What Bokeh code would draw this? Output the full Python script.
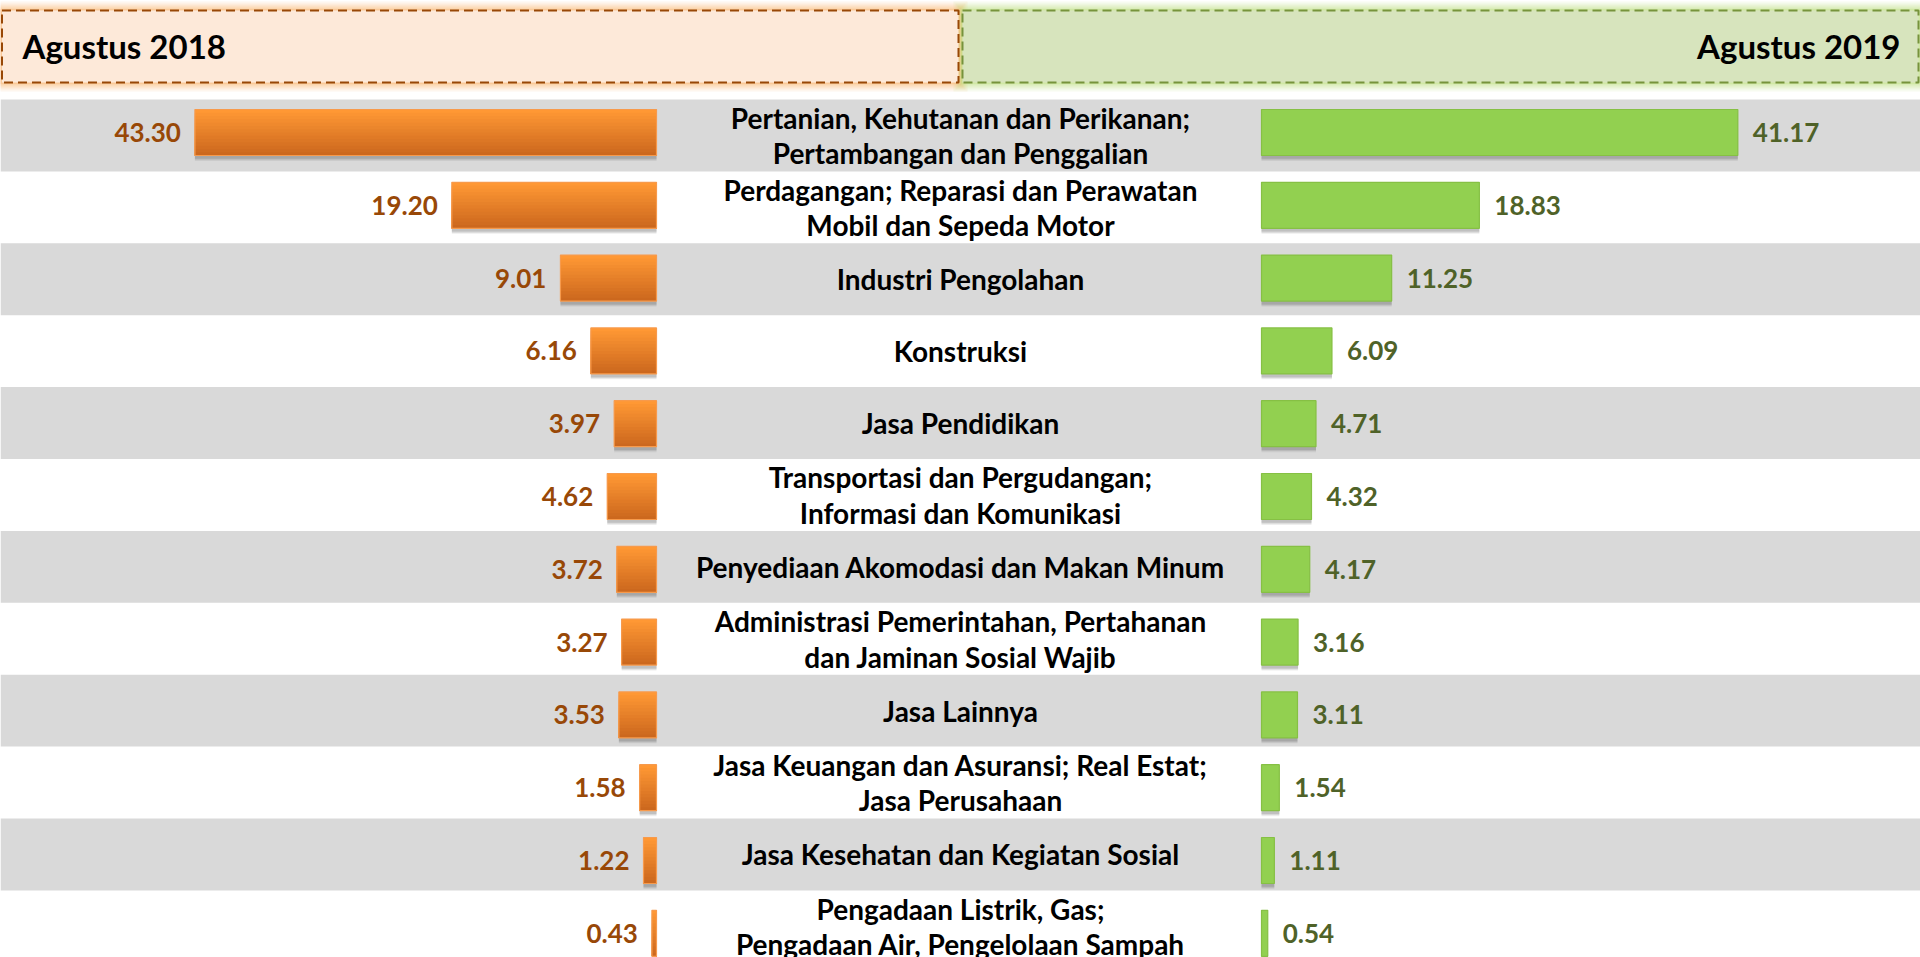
from bokeh.plotting import figure
from bokeh.models import Range1d, ColumnDataSource
from bokeh.transform import dodge
from bokeh.core.properties import value
from bokeh.embed import file_html
from bokeh.resources import INLINE

# ---------------- data ----------------
categories = [
    "Pertanian, Kehutanan dan Perikanan;\nPertambangan dan Penggalian",
    "Perdagangan; Reparasi dan Perawatan\nMobil dan Sepeda Motor",
    "Industri Pengolahan",
    "Konstruksi",
    "Jasa Pendidikan",
    "Transportasi dan Pergudangan;\nInformasi dan Komunikasi",
    "Penyediaan Akomodasi dan Makan Minum",
    "Administrasi Pemerintahan, Pertahanan\ndan Jaminan Sosial Wajib",
    "Jasa Lainnya",
    "Jasa Keuangan dan Asuransi; Real Estat;\nJasa Perusahaan",
    "Jasa Kesehatan dan Kegiatan Sosial",
    "Pengadaan Listrik, Gas;\nPengadaan Air, Pengelolaan Sampah",
]
val_2018 = [43.30, 19.20, 9.01, 6.16, 3.97, 4.62, 3.72, 3.27, 3.53, 1.58, 1.22, 0.43]
val_2019 = [41.17, 18.83, 11.25, 6.09, 4.71, 4.32, 4.17, 3.16, 3.11, 1.54, 1.11, 0.54]
header_left = "Agustus 2018"
header_right = "Agustus 2019"

# ---------------- layout ----------------
W, H = 1920, 957
PX0, PY0 = 0, 0
ROW_PX, ROW0_TOP = 71.9, 99.0
BAR_PX, BAR0 = 72.8, 132.0
L0, LS = 656.0, 10.66
R0, RS = 1261.0, 11.57
FONT = value("Lato")


def ry(py):
    return (py - (ROW0_TOP + ROW_PX / 2)) / ROW_PX


def by(py):
    return (py - BAR0) / BAR_PX


n = len(categories)
rows = list(range(n))

p = figure(width=W, height=H, output_backend="svg", toolbar_location=None,
           x_range=Range1d(PX0, PX0 + W),
           y_range=Range1d(ry(PY0 + H), ry(PY0)),
           x_axis_location=None, y_axis_location=None,
           min_border=0, outline_line_color=None)
p.grid.visible = False
p.background_fill_color = "white"
p.border_fill_color = "white"

p.extra_x_ranges = {
    "l": Range1d((L0 - PX0) / LS, (L0 - (PX0 + W)) / LS),
    "r": Range1d((PX0 - R0) / RS, (PX0 + W - R0) / RS),
}
p.extra_y_ranges = {"b": Range1d(by(PY0 + H), by(PY0))}

# ---------------- row backgrounds ----------------
grey_rows = [i for i in rows if i % 2 == 0]
p.hbar(y=grey_rows, left=0, right=1920, height=1.0,
       fill_color="#D9D9D9", line_color=None)

# ---------------- header boxes ----------------
top_h, bot_h = ry(10), ry(82)
for d, a in [(9, 0.10), (7, 0.13), (5, 0.16), (3, 0.20), (1.5, 0.25)]:
    p.quad(left=[0 - d], right=[958 + d], top=[ry(10 - d)], bottom=[ry(82 + d)],
           fill_color="#F9A85A", fill_alpha=a, line_color=None)
    p.quad(left=[962 - d], right=[1925 + d], top=[ry(10 - d)], bottom=[ry(82 + d)],
           fill_color="#B5DC6A", fill_alpha=a, line_color=None)
p.quad(left=[1.5], right=[958], top=[top_h], bottom=[bot_h],
       fill_color="#FDE9D9", line_color="#984807", line_width=2, line_dash="9 5")
p.quad(left=[962], right=[1918], top=[top_h], bottom=[bot_h],
       fill_color="#D7E4BD", line_color="#77933C", line_width=2, line_dash="9 5")
p.text(x=[22], y=[ry(45)], text=[header_left], text_align="left", text_baseline="middle",
       text_font=FONT, text_font_style="bold", text_font_size="33px", text_color="#000000")
p.text(x=[1900], y=[ry(45)], text=[header_right], text_align="right", text_baseline="middle",
       text_font=FONT, text_font_style="bold", text_font_size="33px", text_color="#000000")

# ---------------- bars ----------------
src = ColumnDataSource(dict(y=rows, v18=val_2018, v19=val_2019,
                            t18=["%.2f" % v for v in val_2018],
                            t19=["%.2f" % v for v in val_2019]))
BH = 46.0 / BAR_PX

# shadows
for off, a in [(0.075, 0.10), (0.06, 0.14), (0.045, 0.18)]:
    p.hbar(y=dodge("y", off), left=0, right="v18", height=BH, source=src,
           x_range_name="l", y_range_name="b", fill_color="#555555", fill_alpha=a, line_color=None)
    p.hbar(y=dodge("y", off), left=0, right="v19", height=BH, source=src,
           x_range_name="r", y_range_name="b", fill_color="#555555", fill_alpha=a, line_color=None)

# orange gradient bars (2018): stacked layers, each reaching the bar bottom
N = 14
c_top = (255, 152, 52)
c_bot = (204, 104, 30)
for k in range(N):
    t = k / (N - 1)
    col = "#%02x%02x%02x" % tuple(int(round(c_top[j] + (c_bot[j] - c_top[j]) * t)) for j in range(3))
    top = -BH / 2 + k * BH / N
    hh = BH / 2 - top
    p.hbar(y=dodge("y", top + hh / 2), left=0, right="v18", height=hh, source=src,
           x_range_name="l", y_range_name="b", fill_color=col, line_color=None)
p.hbar(y="y", left=0, right="v18", height=BH, source=src, x_range_name="l", y_range_name="b",
       fill_color=None, line_color="#F79A4C", line_width=1.2)

# green bars (2019)
p.hbar(y="y", left=0, right="v19", height=BH, source=src, x_range_name="r", y_range_name="b",
       fill_color="#92D050", line_color="#86C044", line_width=1.2)

# ---------------- value labels ----------------
p.text(x="v18", y="y", text="t18", source=src, x_range_name="l", y_range_name="b",
       x_offset=-14, text_align="right", text_baseline="middle",
       text_font=FONT, text_font_style="bold", text_font_size="26px", text_color="#984807")
p.text(x="v19", y="y", text="t19", source=src, x_range_name="r", y_range_name="b",
       x_offset=15, text_align="left", text_baseline="middle",
       text_font=FONT, text_font_style="bold", text_font_size="26px", text_color="#4F6228")

# ---------------- category labels ----------------
p.text(x=[960] * n, y=rows, text=categories, text_align="center", text_baseline="middle",
       text_font=FONT, text_font_style="bold", text_font_size="28px",
       text_line_height=1.05, text_color="#000000")

open("out.html", "w").write(file_html(p, INLINE))
